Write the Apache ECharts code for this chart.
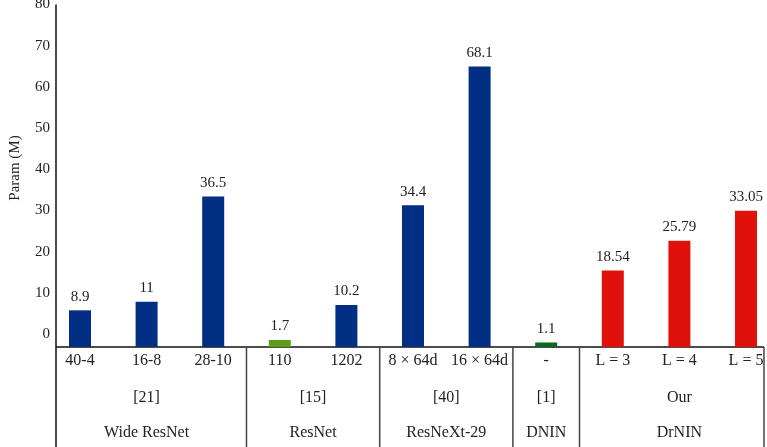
<!DOCTYPE html>
<html>
<head>
<meta charset="utf-8">
<script src="https://cdn.jsdelivr.net/npm/echarts@6/dist/echarts.min.js"></script>
<style>html,body{margin:0;padding:0;background:#fff;}#c{width:767px;height:447px;}</style>
</head>
<body>
<div id="c"></div>
<script>
// ---- data ----
var categories = ['40-4', '16-8', '28-10', '110', '1202', '8 \u00d7 64d', '16 \u00d7 64d', '-', 'L = 3', 'L = 4', 'L = 5'];
var values = [8.9, 11, 36.5, 1.7, 10.2, 34.4, 68.1, 1.1, 18.54, 25.79, 33.05];
var barColors = ['#002f84', '#002f84', '#002f84', '#5c9e18', '#002f84', '#002f84', '#002f84', '#0b6a1f', '#e0110b', '#e0110b', '#e0110b'];
var groupRefs = ['[21]', '[15]', '[40]', '[1]', 'Our'];
var groupNames = ['Wide ResNet', 'ResNet', 'ResNeXt-29', 'DNIN', 'DrNIN'];
var groupRanges = [[0, 2], [3, 4], [5, 6], [7, 7], [8, 10]];
var yMin = 0, yMax = 83, yStep = 10;

var FONT = '"Liberation Serif", "DejaVu Serif", serif';
var Y_AXIS_SHIFT = 9.3;

var chart = echarts.init(document.getElementById('c'), null, {renderer: 'canvas'});

var option = {
  animation: false,
  grid: {left: 46.7, top: 5, width: 732.6, bottom: 100, containLabel: false, outerBoundsMode: 'none'},
  xAxis: {
    type: 'category',
    data: categories,
    boundaryGap: true,
    axisLine: {show: false},
    axisTick: {show: false},
    axisLabel: {margin: 6, fontSize: 16, fontFamily: FONT, color: '#222', interval: 0}
  },
  yAxis: {
    type: 'value',
    min: yMin, max: yMax, interval: yStep,
    offset: -Y_AXIS_SHIFT,
    name: 'Param (M)',
    nameLocation: 'middle',
    nameGap: 33,
    nameTextStyle: {fontSize: 15, fontFamily: FONT, color: '#222', padding: [0, 0, 0, 16]},
    axisLine: {show: true, lineStyle: {color: '#111', width: 1.5}},
    axisTick: {show: false},
    splitLine: {show: false},
    axisLabel: {
      fontSize: 15, fontFamily: FONT, color: '#222', margin: 6,
      verticalAlign: 'bottom', lineHeight: 26,
      formatter: function (v) { return v % yStep === 0 ? String(v) : ''; }
    }
  },
  series: [
    {
      type: 'bar',
      data: values.map(function (v, i) { return {value: v, itemStyle: {color: barColors[i]}}; }),
      barWidth: 22,
      z: 3,
      label: {show: true, position: 'top', distance: 6, fontSize: 15, fontFamily: FONT, color: '#222'}
    },
    {
      type: 'custom',
      silent: true,
      z: 2,
      clip: false,
      data: groupRanges,
      encode: {x: 0, y: 1},
      renderItem: function (params, api) {
        var gi = params.dataIndex;
        var r = groupRanges[gi];
        var band = api.size([1, 0])[0];
        var cs = params.coordSys;
        var pStart = api.coord([r[0], 0]);
        var pEnd = api.coord([r[1], 0]);
        var y0 = pStart[1];
        var H = api.getHeight(), W = api.getWidth();
        var axisX = cs.x + Y_AXIS_SHIFT;
        var rightX = W - 3;
        var cx = (pStart[0] + pEnd[0]) / 2;
        var children = [];
        var sep = {stroke: '#444', lineWidth: 1.5};
        if (gi === 0) {
          children.push({type: 'line', shape: {x1: axisX, y1: y0, x2: rightX, y2: y0}, style: {stroke: '#111', lineWidth: 1.5}});
          children.push({type: 'line', shape: {x1: axisX, y1: y0, x2: axisX, y2: H}, style: {stroke: '#111', lineWidth: 1.5}});
          children.push({type: 'line', shape: {x1: rightX, y1: y0, x2: rightX, y2: H}, style: sep});
        }
        if (gi < groupRanges.length - 1) {
          var bx = pEnd[0] + band / 2;
          children.push({type: 'line', shape: {x1: bx, y1: y0, x2: bx, y2: H}, style: sep});
        }
        children.push({type: 'text', style: {text: groupRefs[gi], x: cx, y: y0 + 51, align: 'center', verticalAlign: 'middle', fontSize: 16, fontFamily: FONT, fill: '#222'}});
        children.push({type: 'text', style: {text: groupNames[gi], x: cx, y: y0 + 86, align: 'center', verticalAlign: 'middle', fontSize: 16, fontFamily: FONT, fill: '#222'}});
        return {type: 'group', children: children};
      }
    }
  ]
};
chart.setOption(option);
</script>
</body>
</html>
